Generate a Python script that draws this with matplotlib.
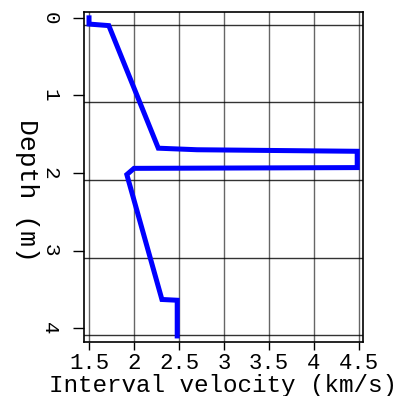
import matplotlib
matplotlib.use("Agg")
import matplotlib.pyplot as plt

# Interval velocity profile (km/s) vs depth (m)
velocity = [1.50, 1.50, 1.72, 2.27, 2.70, 4.48, 4.48, 2.00, 1.92, 2.31, 2.48, 2.48]
depth    = [0.00, 0.08, 0.10, 1.68, 1.70, 1.72, 1.93, 1.94, 2.02, 3.63, 3.64, 4.10]

xticks = [1.5, 2, 2.5, 3, 3.5, 4, 4.5]
xticklabels = ["1.5", "2", "2.5", "3", "3.5", "4", "4.5"]
yticks = [0, 1, 2, 3, 4]
yticklabels = ["0", "1", "2", "3", "4"]
ygrid = [0.09, 1.09, 2.09, 3.09, 4.09]

font = "Liberation Mono"

fig = plt.figure(figsize=(3.98, 3.96), dpi=100)
ax = fig.add_axes([0.211, 0.136, 0.701, 0.834])

ax.set_xlim(1.444, 4.544)
ax.set_ylim(4.18, -0.077)

for xv in xticks:
    ax.axvline(xv, color="black", lw=1.0, alpha=0.6, zorder=1)
for yv in ygrid:
    ax.axhline(yv, color="black", lw=1.0, alpha=0.8, zorder=1)

ax.plot(velocity, depth, color="#0000ff", lw=3.6, solid_joinstyle="miter", zorder=3)

ax.set_xticks(xticks)
ax.set_xticklabels(xticklabels, fontfamily=font, fontsize=16)
ax.set_yticks(yticks)
ax.set_yticklabels([])
for yv, lab in zip(yticks, yticklabels):
    ax.text(-0.122, yv, lab, transform=ax.get_yaxis_transform(), rotation=-90,
            ha="center", va="center", fontfamily=font, fontsize=15)
ax.tick_params(axis="x", direction="out", length=6, width=1, pad=2)
ax.tick_params(axis="y", direction="out", length=8, width=1)

ax.set_xlabel("Interval velocity (km/s)", fontfamily=font, fontsize=17.5, labelpad=0)
ax.set_ylabel("Depth (m)", fontfamily=font, fontsize=19, rotation=-90, va="center", ha="center")
ax.yaxis.set_label_coords(-0.205, 0.46)

for s in ax.spines.values():
    s.set_linewidth(1.2)

fig.savefig("out.png", dpi=100)
